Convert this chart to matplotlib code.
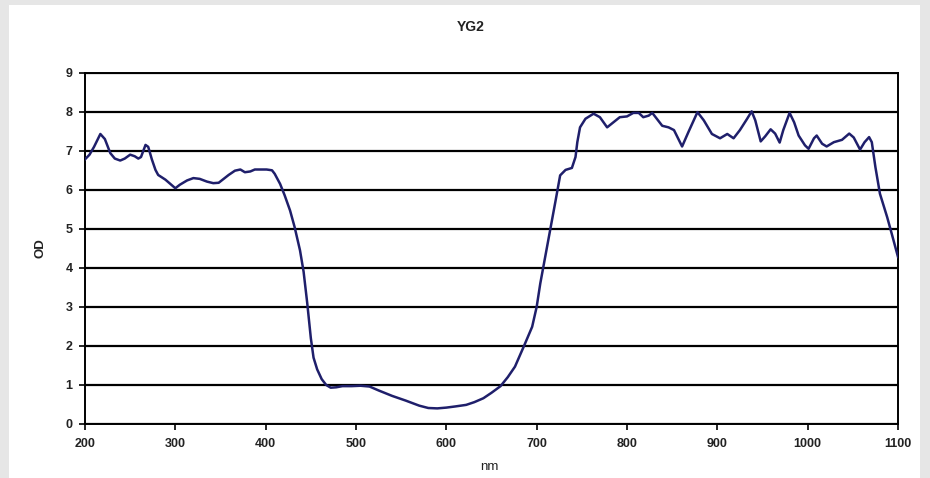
import matplotlib.pyplot as plt
from matplotlib.patches import Rectangle

# wavelength (nm) and optical density
nm = [200, 205, 210, 217, 222, 228, 233, 239, 244, 250, 255, 259, 262, 267, 270,
      274, 278, 281, 289, 294, 300, 305, 313, 320, 327, 335, 342, 348, 353, 359,
      366, 372, 377, 383, 388, 394, 401, 407, 410, 416, 421, 427, 432, 438, 442,
      446, 450, 453, 457, 462, 467, 472, 478, 485, 495, 505, 515, 525, 540, 555,
      570, 580, 590, 600, 610, 622, 631, 641, 650, 660, 668, 676, 686, 695, 700,
      704, 708, 715, 721, 726, 732, 739, 743, 745, 748, 754, 763, 770, 778, 785,
      792, 800, 807, 813, 818, 824, 828, 833, 839, 846, 852, 861, 868, 878, 885,
      894, 903, 911, 918, 925, 933, 938, 942, 948, 953, 959, 964, 969, 973, 980,
      985, 990, 997, 1001, 1007, 1010, 1016, 1021, 1029, 1038, 1046, 1051, 1058,
      1063, 1068, 1071, 1075, 1080, 1088, 1093, 1100]
od = [6.78, 6.9, 7.1, 7.43, 7.3, 6.94, 6.8, 6.75, 6.8, 6.9, 6.86, 6.8, 6.84, 7.15, 7.1,
      6.78, 6.51, 6.38, 6.26, 6.16, 6.04, 6.13, 6.24, 6.3, 6.28, 6.21, 6.17, 6.18, 6.27, 6.38,
      6.49, 6.52, 6.45, 6.47, 6.52, 6.52, 6.52, 6.5, 6.41, 6.15, 5.86, 5.47, 5.05, 4.45, 3.9,
      3.1, 2.2, 1.7, 1.4, 1.15, 1.0, 0.93, 0.94, 0.97, 0.97, 0.98, 0.96, 0.86, 0.72, 0.6,
      0.47, 0.41, 0.4, 0.42, 0.45, 0.49, 0.56, 0.66, 0.8, 0.97, 1.2, 1.47, 2.0, 2.49, 3.0,
      3.6, 4.1, 4.97, 5.73, 6.37, 6.51, 6.56, 6.84, 7.22, 7.6, 7.82, 7.95, 7.86, 7.6, 7.73,
      7.86, 7.88, 7.97, 7.97, 7.86, 7.9, 7.97, 7.82, 7.64, 7.6, 7.53, 7.11, 7.48, 7.99, 7.78,
      7.43, 7.32, 7.43, 7.32, 7.53, 7.82, 8.01, 7.78, 7.24, 7.37, 7.55, 7.44, 7.21, 7.53, 7.97,
      7.73, 7.39, 7.14, 7.05, 7.32, 7.39, 7.18, 7.11, 7.22, 7.28, 7.44, 7.34, 7.03,
      7.22, 7.35, 7.22, 6.58, 5.9, 5.3, 4.88, 4.28]

xticks = [200, 300, 400, 500, 600, 700, 800, 900, 1000, 1100]
yticks = [0, 1, 2, 3, 4, 5, 6, 7, 8, 9]

plt.rcParams['font.family'] = ['Liberation Sans', 'DejaVu Sans']

fig = plt.figure(figsize=(9.3, 4.78), dpi=100, facecolor='#e6e6e6')
fig.patches.append(Rectangle((9 / 930, 0), 911 / 930, 1 - 5 / 478,
                             transform=fig.transFigure, facecolor='white',
                             edgecolor='none', zorder=-5))

ax = fig.add_axes([85 / 930, 1 - 424 / 478, 813 / 930, 351.3 / 478])
ax.set_facecolor('white')

for v in yticks:
    ax.axhline(v, color='black', lw=1.6, zorder=1)

ax.plot(nm, od, color='#1f1f6b', lw=1.8, zorder=3)

ax.set_xlim(200, 1100)
ax.set_ylim(0, 9)
ax.set_xticks(xticks)
ax.set_yticks(yticks)
ax.tick_params(axis='both', direction='out', length=4, width=1.2,
               labelsize=9, colors='black')
ax.tick_params(axis='x', pad=6)
ax.tick_params(axis='y', pad=5)
for lab in ax.get_xticklabels() + ax.get_yticklabels():
    lab.set_fontweight('bold')
    lab.set_color('#222222')
for s in ax.spines.values():
    s.set_color('black')
    s.set_linewidth(1.4)

fig.text(471 / 930, 1 - 27 / 478, 'YG2', ha='center', va='center',
         fontsize=10, fontweight='bold', color='#222222')
fig.text(489 / 930, 1 - 467 / 478, 'nm', ha='center', va='center',
         fontsize=9.5, color='#222222')
fig.text(40 / 930, 1 - 248 / 478, 'OD', ha='center', va='center',
         fontsize=9.5, fontweight='bold', rotation=90, color='#222222')

fig.savefig('out.png', dpi=100, facecolor=fig.get_facecolor())
